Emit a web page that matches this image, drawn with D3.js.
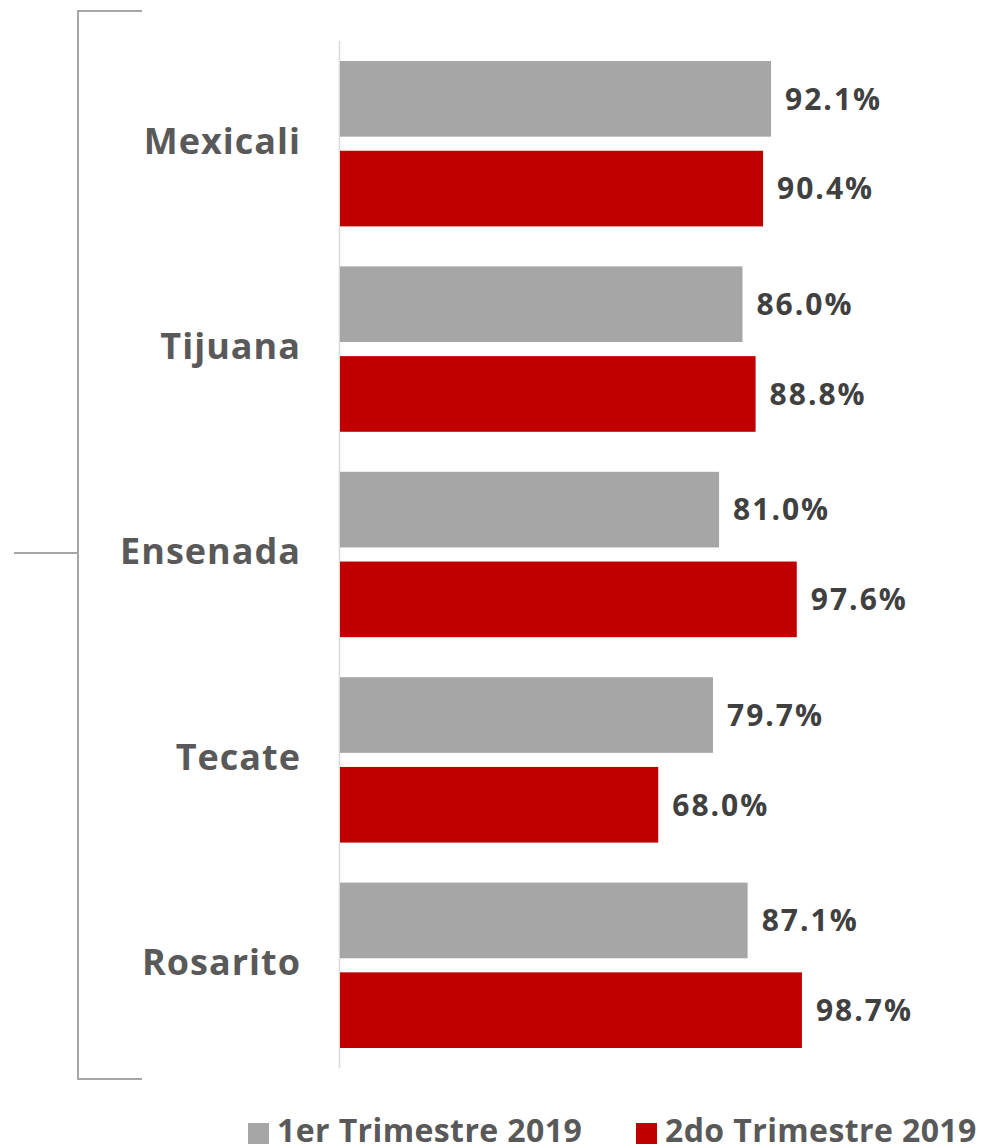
<!DOCTYPE html>
<html>
<head>
<meta charset="utf-8">
<script src="https://cdn.jsdelivr.net/npm/d3@7"></script>
<style>
  body { margin: 0; background: #fff; }
  text { font-family: "Open Sans", "Noto Sans", sans-serif; font-weight: 700; }
</style>
</head>
<body>
<svg id="chart" width="982" height="1146"></svg>
<script>
  let categories = ["Mexicali", "Tijuana", "Ensenada", "Tecate", "Rosarito"]
  let series = ["1er Trimestre 2019", "2do Trimestre 2019"]
  let q1 = [92.1, 86.0, 81.0, 79.7, 87.1]
  let q2 = [90.4, 88.8, 97.6, 68.0, 98.7]
  let colors = ["#a6a6a6", "#c00000"]

  // d3-selection-multi isn't loaded, so a tiny attrs helper
  d3.selection.prototype.attrs = function(o) {
    for (let k in o) this.attr(k, o[k])
    return this
  }

  function make_scales() {
    return {
      x: d3.scaleLinear().domain([0, 100]).range([340, 808]),
      y: d3.scaleBand().domain(categories).range([41, 1068]),
      inner: d3.scaleBand().domain(series).range([20, 185.4]).paddingInner(0.157)
    }
  }

  function draw_bracket(svg) {
    let g = svg.append("g")
      .attr("stroke", "#a6a6a6")
      .attr("stroke-width", 2)
      .attr("fill", "none")
    let top = 11, bottom = 1079
    g.append("path").attr("d", `M142,${top}H78V${bottom}H142`)
    g.append("line").attrs({x1: 14, x2: 78, y1: 553, y2: 553})
  }

  function draw_bars(svg, scales) {
    let rows = categories.map((c, i) => ({cat: c, vals: [q1[i], q2[i]]}))
    let groups = svg.append("g").selectAll("g")
      .data(rows).enter()
      .append("g")
      .attr("transform", d => `translate(0, ${scales.y(d.cat)})`)

    let bars = groups.selectAll("g")
      .data(d => d.vals.map((v, j) => ({s: series[j], v: v, j: j})))
      .enter().append("g")

    bars.append("rect")
      .attr("x", scales.x(0))
      .attr("y", d => scales.inner(d.s))
      .attr("width", d => scales.x(d.v) - scales.x(0))
      .attr("height", scales.inner.bandwidth())
      .attr("fill", d => colors[d.j])

    bars.append("text")
      .attr("x", d => scales.x(d.v) + 14)
      .attr("y", d => scales.inner(d.s) + scales.inner.bandwidth() / 2)
      .attr("dy", "0.36em")
      .attr("font-size", 30)
      .attr("letter-spacing", 2)
      .attr("fill", "#404040")
      .text(d => d.v.toFixed(1) + "%")

    groups.append("text")
      .attr("x", 301)
      .attr("y", scales.y.bandwidth() / 2 - 3)
      .attr("dy", "0.36em")
      .attr("text-anchor", "end")
      .attr("font-size", 36)
      .attr("letter-spacing", 1)
      .attr("fill", "#595959")
      .text(d => d.cat)
  }

  function draw_axis(svg, scales) {
    svg.append("line")
      .attr("x1", scales.x(0) - 0.5).attr("x2", scales.x(0) - 0.5)
      .attr("y1", 41).attr("y2", 1068)
      .attr("stroke", "#d9d9d9")
      .attr("stroke-width", 1.5)
  }

  function draw_legend(svg) {
    let xs = [248, 636]
    let g = svg.append("g").selectAll("g")
      .data(series).enter()
      .append("g")
      .attr("transform", (d, i) => `translate(${xs[i]}, 1123)`)
    g.append("rect")
      .attrs({width: 21, height: 21})
      .attr("fill", (d, i) => colors[i])
    g.append("text")
      .attr("x", 29)
      .attr("y", 19)
      .attr("font-size", 32)
      .attr("letter-spacing", 0.4)
      .attr("fill", "#595959")
      .text(d => d)
  }

  function visualize() {
    let svg = d3.select("#chart")
    let scales = make_scales()
    draw_bracket(svg)
    draw_axis(svg, scales)
    draw_bars(svg, scales)
    draw_legend(svg)
  }

  visualize()
</script>
</body>
</html>
